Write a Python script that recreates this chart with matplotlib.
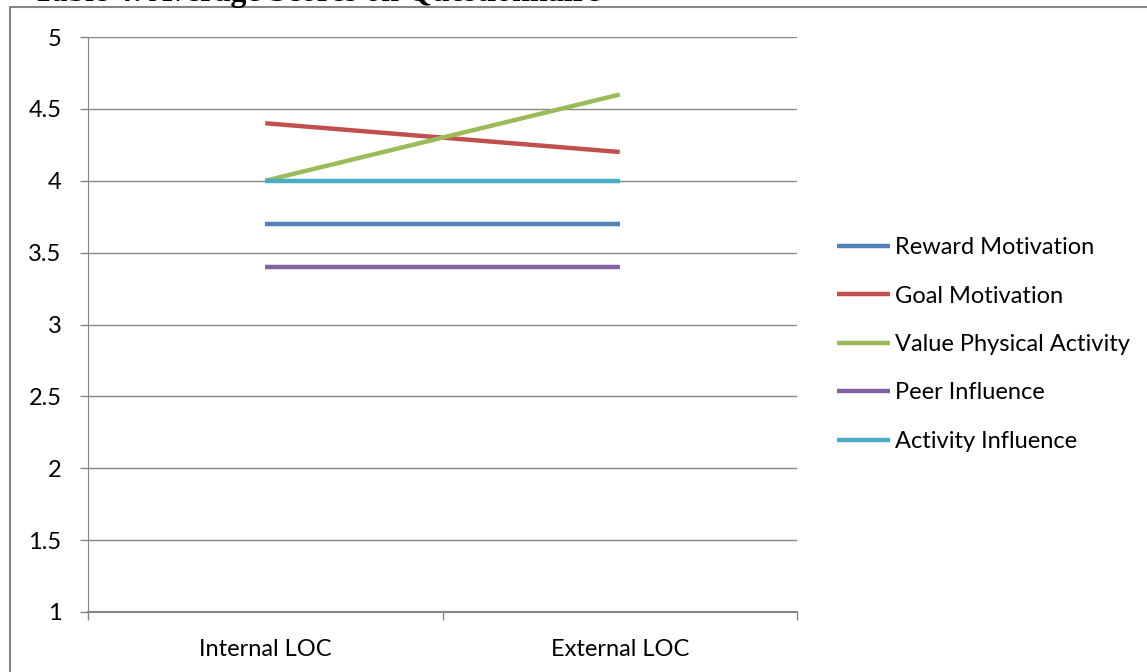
import matplotlib
matplotlib.use("Agg")
import matplotlib.pyplot as plt
from matplotlib.patches import Rectangle

# data
categories = ["Internal LOC", "External LOC"]
series_names = ["Reward Motivation", "Goal Motivation", "Value Physical Activity",
                "Peer Influence", "Activity Influence"]
reward = [3.7, 3.7]
goal = [4.4, 4.2]
value_pa = [4.0, 4.6]
peer = [3.4, 3.4]
activity = [4.0, 4.0]
colors = ["#4F81BD", "#C0504D", "#9BBB59", "#8064A2", "#4BACC6"]

plt.rcParams['font.family'] = ['Lato', 'DejaVu Sans']

fig = plt.figure(figsize=(11.47, 6.72), dpi=100)
ax = fig.add_axes([88 / 1147, 1 - 612 / 672, (797 - 88) / 1147, (612 - 37) / 672])

x = list(range(len(categories)))
for vals, name, c in zip([reward, goal, value_pa, peer, activity], series_names, colors):
    ax.plot(x, vals, color=c, lw=3.2, label=name, solid_capstyle='butt')

ax.set_xlim(-0.5, 1.5)
ax.set_ylim(1, 5)
ax.set_yticks([1, 1.5, 2, 2.5, 3, 3.5, 4, 4.5, 5])
ax.set_yticklabels(["1", "1.5", "2", "2.5", "3", "3.5", "4", "4.5", "5"])
ax.set_xticks(x)
ax.set_xticklabels(categories)
ax.set_xticks([-0.5, 0.5, 1.5], minor=True)
ax.tick_params(axis='x', which='major', length=0, pad=19.5, labelsize=17)
ax.tick_params(axis='x', which='minor', length=6, color='#868686', width=1)
ax.tick_params(axis='y', length=6, color='#868686', width=1, pad=13, labelsize=17)
ax.grid(axis='y', color='#868686', lw=1)
ax.set_axisbelow(True)
for s in ['top', 'right']:
    ax.spines[s].set_visible(False)
for s in ['left', 'bottom']:
    ax.spines[s].set_color('#868686')
ax.spines['bottom'].set_linewidth(1.5)

ax.legend(loc='center left', bbox_to_anchor=(816 / 1147, 1 - 344.5 / 672),
          bbox_transform=fig.transFigure, frameon=False, fontsize=17,
          handlelength=2.25, handletextpad=0.2, labelspacing=1.16)

# outer frame of the chart object
fig.patches.append(Rectangle((10 / 1147, -0.05), 1.1, 1 - 7 / 672 + 0.05,
                             transform=fig.transFigure, fill=False,
                             edgecolor='#868686', lw=1.5))

# caption cut off at the top edge
fig.text(33 / 1147, 1 - 0.5 / 672, "Table 4: Average Scores on Questionnaire",
         family='Liberation Serif', weight='bold', fontsize=23, va='baseline')

fig.savefig("out.png", dpi=100)
